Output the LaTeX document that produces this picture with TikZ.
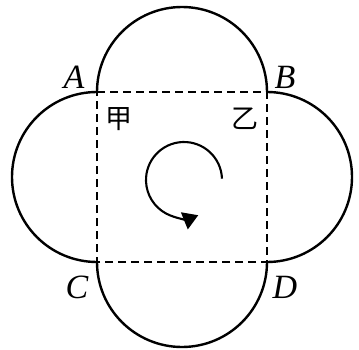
\documentclass[tikz,border=0pt]{standalone}
\usepackage{fontspec}
\setmainfont{Liberation Serif}
\newfontfamily\cjk{Noto Sans CJK SC}
\usetikzlibrary{arrows.meta}
\tikzstyle{rim} = [line width=2.4pt]
\tikzstyle{edge} = [line width=2.1pt, dash pattern=on 8pt off 5pt]
\tikzstyle{corner} = [font=\fontsize{34}{35}\selectfont\itshape, inner sep=0pt]
\tikzstyle{part} = [font=\cjk\fontsize{27}{28}\selectfont, inner sep=0pt]
\tikzstyle{spin} = [line width=2.1pt, -{Triangle[length=15pt, width=18pt]}]

\begin{document}
\begin{tikzpicture}[x=1pt, y=1pt]
    \useasboundingbox (0,0) rectangle (359,349);
    \coordinate (a) at (97,257);
    \coordinate (b) at (267,257);
    \coordinate (c) at (97,87);
    \coordinate (d) at (267,87);

    \draw [edge] (a) -- (b) -- (d) -- (c) -- cycle;
    \draw [rim] (a) arc (180:0:85);
    \draw [rim] (a) arc (90:270:85);
    \draw [rim] (b) arc (90:-90:85);
    \draw [rim] (c) arc (180:360:85);

    \node (labA) [corner] at (74,272) {A};
    \node (labB) [corner] at (285,272) {B};
    \node (labC) [corner] at (77,62) {C};
    \node (labD) [corner] at (285,62) {D};
    \node (jia) [part] at (119,230) {甲};
    \node (yi) [part] at (245,230) {乙};

    \coordinate (hub) at (184,169);
    \draw [spin] ([shift={(2:38)}]hub) arc (2:292:38);
\end{tikzpicture}
\end{document}
